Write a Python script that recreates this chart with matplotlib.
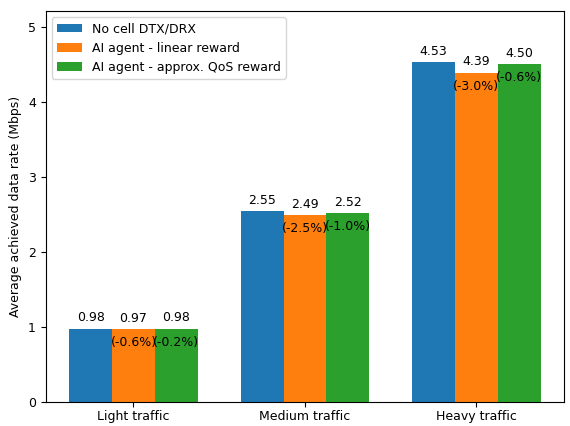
import numpy as np
import matplotlib.pyplot as plt

# dati
categorie = ["Light traffic", "Medium traffic", "Heavy traffic"]
serie = ["No cell DTX/DRX", "AI agent - linear reward", "AI agent - approx. QoS reward"]
no_dtx = [0.98, 2.55, 4.53]
lineare = [0.97, 2.49, 4.39]
qos = [0.98, 2.52, 4.50]
perc_lineare = ["(-0.6%)", "(-2.5%)", "(-3.0%)"]
perc_qos = ["(-0.2%)", "(-1.0%)", "(-0.6%)"]

plt.rcParams['font.size'] = 9

fig = plt.figure(figsize=(5.7, 4.26), dpi=100)
ax = fig.add_axes([0.08, 0.056, 0.91, 0.918])

x = np.arange(len(categorie))
w = 0.25
b1 = ax.bar(x - w, no_dtx, w, label=serie[0], color="#1f77b4")
b2 = ax.bar(x, lineare, w, label=serie[1], color="#ff7f0e")
b3 = ax.bar(x + w, qos, w, label=serie[2], color="#2ca02c")

# valori sopra le barre
for barre in (b1, b2, b3):
    ax.bar_label(barre, fmt="%.2f", padding=3)

# percentuali dentro le barre, sotto il bordo superiore
for barre, perc in ((b2, perc_lineare), (b3, perc_qos)):
    for b, p in zip(barre, perc):
        ax.annotate(p, (b.get_x() + b.get_width() / 2, b.get_height()),
                    xytext=(0, -5), textcoords="offset points",
                    ha="center", va="top")

ax.set_xticks(x)
ax.set_xticklabels(categorie)
ax.tick_params(axis="x", pad=2.5)
ax.set_ylabel("Average achieved data rate (Mbps)")
ax.set_ylim(0, 5.21)
ax.legend(loc="upper left")

fig.savefig("out.png", dpi=100)
